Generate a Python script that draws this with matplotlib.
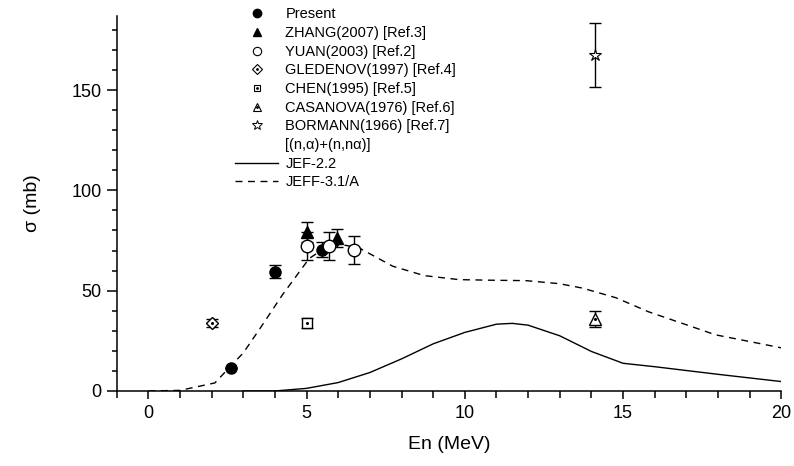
import matplotlib.pyplot as plt
import numpy as np
from matplotlib.lines import Line2D
from matplotlib.ticker import MultipleLocator

plt.rcParams['font.family'] = ['Liberation Sans', 'DejaVu Sans']

# measured cross sections: energy (MeV), sigma (mb), error (mb)
present_e = [2.6, 4.0, 5.5]
present_s = [11.7, 59.5, 70.5]
present_err = [0.0, 3.3, 3.6]

zhang_e = [5.0, 5.95]
zhang_s = [79.3, 76.3]
zhang_err = [5.0, 4.5]

yuan_e = [5.0, 5.7, 6.5]
yuan_s = [72.2, 72.2, 70.5]
yuan_err = [7.0, 7.0, 7.0]

gled_e = [2.0]
gled_s = [33.8]
gled_err = [2.0]

chen_e = [5.0]
chen_s = [33.8]
chen_err = [2.5]

casa_e = [14.1]
casa_s = [36.0]
casa_err = [4.0]

borm_e = [14.1]
borm_s = [167.6]
borm_err = [16.0]

# evaluated data
jef22_e = [3, 4, 5, 6, 7, 8, 9, 10, 11, 11.5, 12, 13, 14, 15, 16, 17, 18, 19, 20]
jef22_s = [0, 0, 1.3, 4.2, 9.2, 16, 23.5, 29.2, 33.3, 33.7, 32.8, 27.5,
           19.7, 13.8, 12.1, 10.2, 8.3, 6.5, 4.7]

jeff31_e = [0, 1, 2.1, 3, 3.5, 4.24, 5.08, 5.5, 6.1, 6.66, 7.72, 8.72, 9.82,
            10.87, 11.93, 12.98, 13.71, 14.77, 15.8, 17, 17.92, 18.98, 20]
jeff31_s = [0, 0.3, 4, 19, 30.5, 48, 66, 70.5, 73, 71.3, 62.2, 57.5, 55.5,
            55.2, 55, 53.5, 51.3, 46.5, 39.5, 33, 28, 24.7, 21.5]

fig = plt.figure(figsize=(7.94, 4.66), dpi=100)
ax = fig.add_axes([0.147, 0.161, 0.837, 0.805])

ax.plot(jef22_e, jef22_s, color='black', lw=1.0)
ax.plot(jeff31_e, jeff31_s, color='black', lw=1.0, dashes=(5, 4))

ebar = dict(fmt='none', ecolor='black', elinewidth=1.0, capsize=4, capthick=1.0)
for e, s, err in [(present_e, present_s, present_err), (zhang_e, zhang_s, zhang_err),
                  (yuan_e, yuan_s, yuan_err), (gled_e, gled_s, gled_err),
                  (chen_e, chen_s, chen_err), (casa_e, casa_s, casa_err),
                  (borm_e, borm_s, borm_err)]:
    ax.errorbar(e, s, yerr=err, **ebar)

dot = dict(ls='none', marker='o', ms=1.2, color='black')
ax.plot(present_e, present_s, ls='none', marker='o', ms=8, color='black')
ax.plot(zhang_e, zhang_s, ls='none', marker='^', ms=8, color='black')
ax.plot(yuan_e, yuan_s, ls='none', marker='o', ms=9, mfc='white', mec='black', mew=1)
ax.plot(gled_e, gled_s, ls='none', marker='D', ms=6.5, mfc='white', mec='black', mew=1)
ax.plot(gled_e, gled_s, **dot)
ax.plot(chen_e, chen_s, ls='none', marker='s', ms=6.5, mfc='white', mec='black', mew=1)
ax.plot(chen_e, chen_s, **dot)
ax.plot(casa_e, casa_s, ls='none', marker='^', ms=8, mfc='white', mec='black', mew=1)
ax.plot(casa_e, casa_s, **dot)
ax.plot(borm_e, borm_s, ls='none', marker='*', ms=9, mfc='white', mec='black', mew=0.8)

ax.set_xlim(-1, 20)
ax.set_ylim(0, 187)
ax.xaxis.set_major_locator(MultipleLocator(5))
ax.xaxis.set_minor_locator(MultipleLocator(1))
ax.yaxis.set_major_locator(MultipleLocator(50))
ax.yaxis.set_minor_locator(MultipleLocator(10))
ax.spines['top'].set_visible(False)
ax.spines['right'].set_visible(False)
for sp in ('left', 'bottom'):
    ax.spines[sp].set_linewidth(1.1)
ax.tick_params(axis='y', which='major', length=7, width=1.1, labelsize=13, pad=4)
ax.tick_params(axis='y', which='minor', length=3.6, width=1.1)
ax.tick_params(axis='x', which='major', length=6, width=1.1, labelsize=13, pad=4)
ax.tick_params(axis='x', which='minor', length=5, width=1.1)

ax.set_xlabel('En (MeV)', fontsize=14, labelpad=10)
ax.set_ylabel('σ (mb)', fontsize=14, labelpad=22)

# legend: symbols only (no error bars), plus a caption row and the two evaluations
lk = dict(ls='none', color='black')
h_present = Line2D([], [], marker='o', ms=6, **lk)
h_zhang = Line2D([], [], marker='^', ms=6, **lk)
h_yuan = Line2D([], [], marker='o', ms=6, mfc='white', mew=0.8, **lk)
h_gled = (Line2D([], [], marker='D', ms=5, mfc='white', mew=0.8, **lk),
          Line2D([], [], marker='o', ms=1, **lk))
h_chen = (Line2D([], [], marker='s', ms=5, mfc='white', mew=0.8, **lk),
          Line2D([], [], marker='o', ms=1, **lk))
h_casa = (Line2D([], [], marker='^', ms=6, mfc='white', mew=0.8, **lk),
          Line2D([], [], marker='o', ms=1, **lk))
h_borm = Line2D([], [], marker='*', ms=7, mfc='white', mew=0.7, **lk)
h_blank = Line2D([], [], ls='none')
h_jef = Line2D([], [], color='black', lw=1.0)
h_jeff = Line2D([], [], color='black', lw=1.0, dashes=(5, 4))

handles = [h_present, h_zhang, h_yuan, h_gled, h_chen, h_casa, h_borm,
           h_blank, h_jef, h_jeff]
labels = ['Present', 'ZHANG(2007) [Ref.3]', 'YUAN(2003) [Ref.2]',
          'GLEDENOV(1997) [Ref.4]', 'CHEN(1995) [Ref.5]',
          'CASANOVA(1976) [Ref.6]', 'BORMANN(1966) [Ref.7]',
          '[(n,α)+(n,nα)]', 'JEF-2.2', 'JEFF-3.1/A']
fig.legend(handles, labels, loc='upper left', bbox_to_anchor=(0.296, 0.984),
           frameon=False, fontsize=10.5, handlelength=2.95, handletextpad=0.5,
           labelspacing=0.32, borderpad=0, borderaxespad=0)

fig.savefig('out.png', dpi=100)
